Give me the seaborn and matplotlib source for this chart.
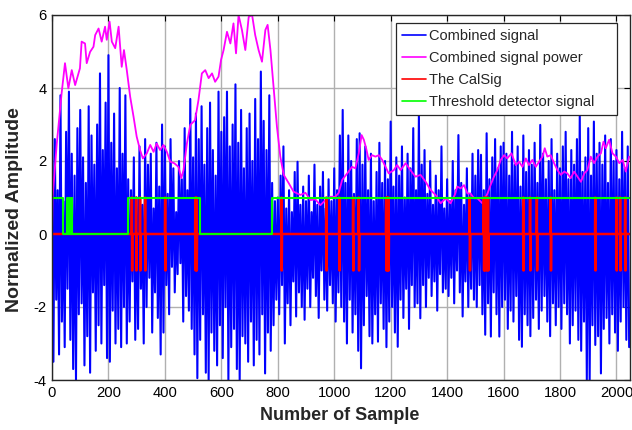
import numpy as np
import pandas as pd
import matplotlib
matplotlib.use("Agg")
import matplotlib.pyplot as plt
from matplotlib.lines import Line2D
import seaborn as sns

# ---------------- data ----------------
# Combined signal, one value every 5 samples (0, 5, ..., 2045)
signal_step = 5
signal_values = [
    3.2, -3.5, 2.6, -1.8, 1.2, -3.3, 3.8, -2.4, 0.9, -3.1, 2.8, -1.5, 3.9, -2.9, 2.2, -3.7, 1.6, -4.0, 2.9, -2.2,
    3.4, -1.9, 2.1, -3.6, 1.4, -2.8, 3.5, -3.8, 2.7, -1.6, 1.9, -3.2, 3.0, -2.5, 4.4, -3.0, 2.3, -1.4, 3.6, -3.4,
    4.9, -3.5, 2.5, -2.1, 3.3, -3.0, 1.8, -2.6, 4.0, -3.1, 2.2, -2.0, 3.8, -3.0, 1.5, -2.4, 1.2, -1.3, 2.1, -2.9,
    1.0, -2.6, 2.4, -1.5, 0.8, -3.0, 2.6, -2.0, 1.9, -1.2, 2.2, -2.7, 0.7, -1.6, 2.5, -2.3, 1.3, -3.3, 3.0, -2.7,
    2.4, -1.4, 1.1, -2.2, 2.6, -0.9, 1.8, -1.6, 0.6, -1.1, 2.0, -0.8, 1.5, -2.4, 2.9, -1.7, 1.2, -2.1, 3.7, -2.6,
    2.1, -3.3, 3.3, -3.95, 2.6, -2.9, 3.5, -2.2, 1.9, -3.8, 2.9, -4.0, 3.6, -2.7, 2.3, -3.2, 1.6, -3.6, 3.9, -2.5,
    2.8, -3.4, 3.2, -2.0, 3.9, -4.0, 2.4, -3.1, 3.0, -2.6, 4.1, -3.7, 2.5, -4.0, 3.4, -2.8, 1.8, -3.0, 2.9, -3.5,
    3.3, -2.4, 2.0, -3.6, 3.7, -2.9, 2.6, -3.3, 4.45, -2.2, 3.1, -3.82, 2.3, -2.7, 3.8, -3.2, 1.4, -2.5, 0.9, -1.8,
    1.0, -2.2, 1.6, -1.4, 2.4, -3.0, 0.7, -1.9, 1.2, -2.5, 0.6, -1.3, 1.7, -2.26, 1.98, -1.6, 0.8, -2.0, 1.3, -2.35,
    0.9, -1.5, 1.6, -2.0, 0.6, -1.2, 1.9, -1.7, 0.8, -2.3, 1.3, -1.0, 1.7, -1.8, 0.7, -2.1, 1.5, -1.4, 0.9, -1.9,
    1.8, -2.4, 1.2, -1.6, 2.7, -2.0, 3.4, -2.4, 1.4, -3.0, 2.7, -1.8, 2.0, -2.7, 1.1, -2.2, 2.6, -3.2, 2.76, -3.68,
    1.9, -2.5, 2.4, -1.7, 1.2, -2.8, 2.2, -3.0, 0.9, -2.2, 1.7, -2.95, 2.5, -1.9, 1.4, -2.6, 2.0, -3.1, 1.5, -2.4,
    3.08, -2.0, 1.3, -2.7, 2.1, -3.09, 1.6, -1.8, 2.4, -2.3, 1.0, -1.5, 2.2, -2.6, 1.8, -1.4, 2.9, -2.0, 1.2, -1.9,
    3.26, -2.31, 1.9, -1.4, 2.3, -2.0, 1.1, -1.2, 2.0, -1.7, 0.8, -1.3, 1.6, -2.1, 1.2, -1.1, 2.4, -1.6, 0.7, -1.5,
    1.5, -1.7, 0.9, -1.2, 2.0, -1.9, 1.2, -1.0, 2.71, -1.6, 1.4, -2.26, 0.8, -1.3, 1.8, -2.0, 1.1, -1.5, 2.2, -1.8,
    1.6, -2.0, 2.3, -1.4, 2.17, -2.2, 1.2, -2.76, 2.76, -1.9, 1.5, -2.81, 2.1, -1.6, 2.6, -2.2, 1.8, -2.81, 2.4, -2.0,
    2.5, -1.8, 2.2, -2.6, 1.6, -2.1, 2.8, -2.4, 1.9, -1.7, 2.4, -2.9, 1.3, -3.09, 2.7, -2.2, 1.7, -2.5, 2.3, -2.8,
    1.9, -2.3, 2.5, -1.8, 1.4, -2.6, 2.99, -2.1, 2.2, -1.7, 1.5, -2.4, 2.0, -2.8, 2.6, -1.9, 1.2, -2.5, 2.2, -2.0,
    1.8, -2.6, 2.4, -1.9, 2.8, -2.2, 1.5, -3.0, 2.3, -2.5, 1.9, -2.1, 2.6, -2.9, 3.26, -3.2, 1.7, -2.4, 2.1, -4.0,
    2.9, -4.0, 1.6, -2.5, 3.08, -3.04, 2.2, -2.8, 2.5, -3.82, 1.9, -2.6, 2.7, -2.3, 1.4, -3.0, 2.6, -2.2, 2.0, -2.7,
    2.3, -3.2, 1.5, -2.4, 2.8, -2.0, 1.8, -2.9, 2.4, -3.1,
]

# Combined signal power (sample index, value)
power_x = [0, 2, 17, 34, 46, 58, 70, 82, 99, 105, 117, 123, 135, 147, 153, 165, 176, 188, 194, 204,
           212, 224, 236, 247, 255, 265, 277, 289, 300, 312, 322, 336, 348, 360, 371, 383, 395, 407, 419, 433,
           448, 458, 466, 478, 490, 507, 519, 531, 543, 555, 567, 578, 590, 599, 608, 620, 632, 643, 652, 661,
           673, 685, 697, 709, 720, 732, 744, 756, 764, 774, 785, 797, 809, 821, 839, 856, 880, 898, 916, 933,
           951, 969, 987, 1004, 1016, 1028, 1046, 1063, 1075, 1087, 1097, 1105, 1113, 1122, 1134, 1146, 1158, 1170, 1182, 1193,
           1211, 1223, 1235, 1253, 1270, 1288, 1306, 1324, 1341, 1359, 1377, 1395, 1412, 1427, 1436, 1448, 1460, 1472, 1483, 1495,
           1507, 1525, 1543, 1554, 1566, 1578, 1590, 1602, 1613, 1628, 1643, 1655, 1667, 1679, 1690, 1702, 1714, 1726, 1738, 1746,
           1755, 1767, 1779, 1791, 1803, 1815, 1826, 1838, 1850, 1862, 1874, 1886, 1897, 1909, 1921, 1933, 1945, 1954, 1962, 1974,
           1986, 1998, 2010, 2022, 2033, 2045]
power_y = [0.0, 1.0, 2.48, 3.85, 4.68, 3.99, 4.49, 4.08, 4.54, 5.27, 5.22, 4.68, 4.99, 5.13, 5.45, 5.63, 5.27, 5.68, 5.32, 5.82,
           5.27, 5.09, 5.68, 4.58, 5.04, 4.49, 3.76, 3.21, 2.67, 2.30, 2.07, 2.21, 2.44, 2.25, 2.48, 2.30, 2.44, 2.25, 1.98, 1.94,
           1.84, 1.53, 1.75, 2.48, 2.99, 3.12, 3.67, 4.40, 4.49, 4.27, 4.40, 4.17, 4.31, 4.77, 5.04, 5.54, 5.22, 5.77, 4.95, 6.0,
           5.59, 5.04, 5.95, 6.0, 5.45, 5.04, 4.72, 5.59, 5.73, 5.04, 4.04, 2.94, 2.12, 1.62, 1.39, 1.16, 1.07, 1.13, 0.93, 0.95,
           0.79, 0.93, 1.02, 1.02, 1.13, 1.48, 1.66, 1.84, 1.80, 2.21, 2.71, 2.58, 2.35, 2.03, 2.16, 2.12, 2.16, 2.03, 1.84, 1.66,
           1.75, 1.89, 1.75, 1.94, 1.75, 1.57, 1.62, 1.43, 1.21, 1.07, 0.84, 0.98, 0.84, 1.07, 1.30, 1.25, 1.34, 1.11, 1.11, 0.98,
           0.98, 0.84, 1.11, 1.34, 1.57, 1.75, 2.03, 2.16, 2.07, 2.21, 1.89, 1.98, 1.84, 2.07, 1.89, 2.03, 1.84, 1.98, 2.12, 2.35,
           2.12, 2.16, 1.94, 1.75, 1.62, 1.71, 1.66, 1.53, 1.71, 1.57, 1.43, 1.66, 1.75, 2.12, 1.94, 2.12, 2.21, 2.53, 2.35, 2.58,
           2.21, 2.12, 1.94, 2.03, 1.71, 2.12]

# CalSig: sample positions of the +1/-1 calibration pulses (0 elsewhere)
calsig_pulses = [283, 298, 312, 330, 401, 508, 512, 813, 972, 1018, 1067, 1087, 1184, 1188, 1192,
                 1480, 1530, 1534, 1540, 1545, 1670, 1694, 1718, 1767, 1925, 2000, 2013, 2031]

# Threshold detector: change points (sample) and level held from there on
detector_x = [0, 38, 54, 56, 58, 60, 62, 64, 66, 68, 70, 72, 271, 523, 780, 2047]
detector_y = [1, 0, 1, 0, 1, 0, 1, 0, 1, 0, 1, 0, 1, 0, 1, 1]

series_names = ["Combined signal", "Combined signal power", "The CalSig", "Threshold detector signal"]
series_colors = ["#0000ff", "#ff00ff", "#ff0000", "#00ff00"]

n_samples = 2048
x_ticks = [0, 200, 400, 600, 800, 1000, 1200, 1400, 1600, 1800, 2000]
y_ticks = [-4, -2, 0, 2, 4, 6]

# ---------------- tables ----------------
sig_df = pd.DataFrame({"x": np.arange(len(signal_values)) * signal_step, "y": signal_values})
pow_df = pd.DataFrame({"x": power_x, "y": power_y})

cal_x, cal_y = [0], [0]
for p in calsig_pulses:
    cal_x += [p - 1, p, p + 1, p + 2]
    cal_y += [0, 1, -1, 0]
cal_x.append(n_samples - 1)
cal_y.append(0)
cal_df = pd.DataFrame({"x": cal_x, "y": cal_y})
det_df = pd.DataFrame({"x": detector_x, "y": detector_y})

# ---------------- plot ----------------
sns.set_style("white")
plt.rcParams["font.family"] = ["Liberation Sans", "DejaVu Sans"]
plt.rcParams["axes.unicode_minus"] = False

fig = plt.figure(figsize=(6.32, 4.30), dpi=100)
ax = fig.add_axes([52 / 632, 50 / 430, 578 / 632, 365 / 430])

sns.lineplot(data=sig_df, x="x", y="y", ax=ax, color=series_colors[0], lw=1.5,
             estimator=None, sort=False)
sns.lineplot(data=pow_df, x="x", y="y", ax=ax, color=series_colors[1], lw=1.3,
             estimator=None, sort=False)
sns.lineplot(data=cal_df, x="x", y="y", ax=ax, color=series_colors[2], lw=1.8,
             estimator=None, sort=False)
sns.lineplot(data=det_df, x="x", y="y", ax=ax, color=series_colors[3], lw=1.5,
             estimator=None, sort=False, drawstyle="steps-post")

ax.set_xlim(0, n_samples)
ax.set_ylim(-4, 6)
ax.set_xticks(x_ticks)
ax.set_yticks(y_ticks)
ax.tick_params(direction="in", length=4, width=0.8, labelsize=10.6, top=True, right=True,
               colors="black", pad=4)
ax.grid(True, color="#b0b0b0", lw=1.0)
ax.set_axisbelow(True)
for s in ax.spines.values():
    s.set_color("#262626")
    s.set_linewidth(1.0)

ax.set_xlabel("Number of Sample", fontsize=13, fontweight="bold")
ax.xaxis.set_label_coords(340 / 632, 1 - 407 / 430, transform=fig.transFigure)
ax.set_ylabel("Normalized Amplitude", fontsize=14, fontweight="bold")
ax.yaxis.set_label_coords(23 / 632, 1 - 210 / 430, transform=fig.transFigure)

handles = [Line2D([], [], color=c, lw=1.2) for c in series_colors]
leg = ax.legend(handles, series_names, loc="upper left",
                bbox_to_anchor=(396 / 632, 1 - 115 / 430, 221 / 632, 92 / 430),
                bbox_transform=fig.transFigure, mode="expand", borderaxespad=0, fancybox=False,
                framealpha=1, edgecolor="#262626", fontsize=10.5, handlelength=1.65,
                handletextpad=0.2, labelspacing=0.56, borderpad=0.4)
leg.get_frame().set_linewidth(0.9)

fig.savefig("out.png", dpi=100)
